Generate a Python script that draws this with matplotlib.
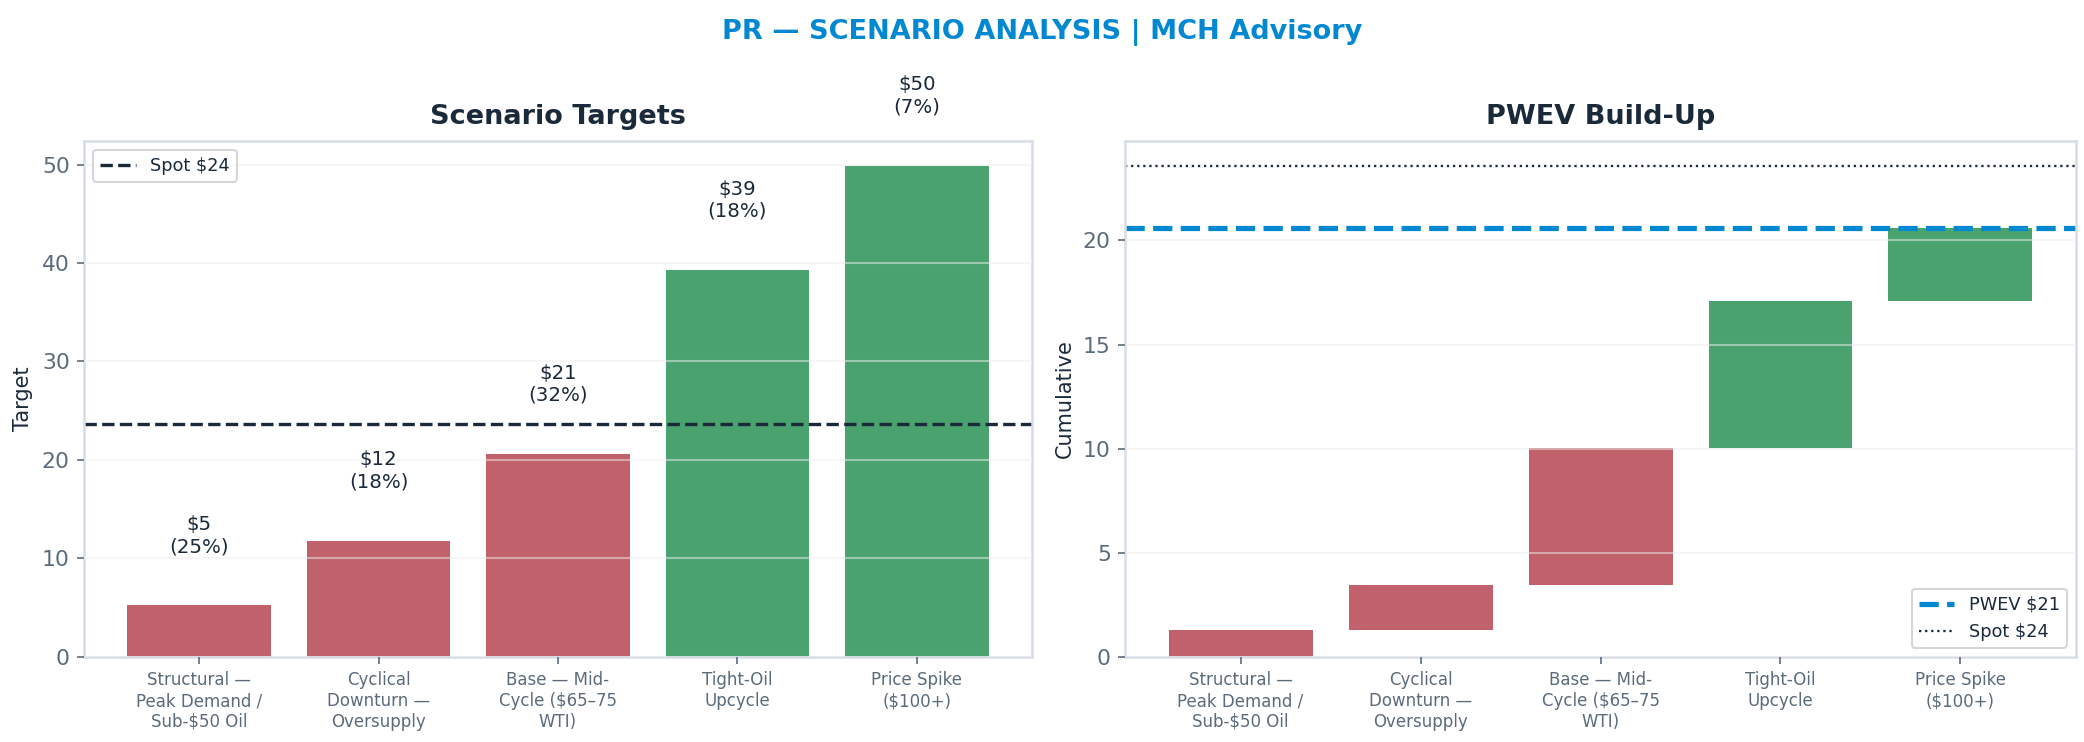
import textwrap
import matplotlib
matplotlib.use("Agg")
import matplotlib.pyplot as plt
import numpy as np

plt.rcParams['text.parse_math'] = False
plt.rcParams['font.family'] = ['DejaVu Sans']

# scenario data
scenarios = ["Structural — Peak Demand / Sub-$50 Oil",
             "Cyclical Downturn — Oversupply",
             "Base — Mid-Cycle ($65–75 WTI)",
             "Tight-Oil Upcycle",
             "Price Spike ($100+)"]
targets = [5.2, 11.8, 20.6, 39.3, 49.9]
probs = [0.25, 0.18, 0.32, 0.18, 0.07]
spot = 23.6

RED = "#c0616b"
GREEN = "#4aa26e"
NAVY = "#1b2a3b"
SLATE = "#5b6b7c"
SPINE = "#d6dde8"
BLUE = "#0288d1"

labels = [textwrap.fill(s, 14) for s in scenarios]
colors = [GREEN if t > spot else RED for t in targets]
x = np.arange(len(targets))

contrib = [t * p for t, p in zip(targets, probs)]
cum = np.cumsum(contrib)
starts = cum - np.array(contrib)
pwev = cum[-1]

fig = plt.figure(figsize=(2084 / 150, 742 / 150), dpi=150)
ax1 = fig.add_axes([0.0405, 0.115, 0.4545, 0.695])
ax2 = fig.add_axes([0.540, 0.115, 0.456, 0.695])


def style(ax):
    for s in ax.spines.values():
        s.set_color(SPINE)
        s.set_linewidth(1.2)
    ax.tick_params(axis='y', colors=SLATE, labelsize=10.5)
    ax.tick_params(axis='x', colors=SLATE, labelsize=8)
    ax.set_axisbelow(False)
    ax.grid(axis='y', color='#eeeeee', alpha=0.5, linewidth=1)
    ax.set_xticks(x)
    ax.set_xticklabels(labels)


# left: scenario targets
ax1.bar(x, targets, width=0.8, color=colors)
ax1.axhline(spot, color=NAVY, linestyle='--', linewidth=1.6, label=f"Spot ${spot:.0f}")
for xi, t, p in zip(x, targets, probs):
    ax1.text(xi, t + 5, f"${t:.0f}\n({p*100:.0f}%)", ha='center', va='bottom',
             fontsize=9.5, color=NAVY)
ax1.set_ylim(0, max(targets) * 1.05)
ax1.set_yticks([0, 10, 20, 30, 40, 50])
ax1.set_ylabel("Target", color=NAVY, fontsize=10)
ax1.set_title("Scenario Targets", fontsize=13, fontweight='bold', color=NAVY, pad=8)
style(ax1)
leg = ax1.legend(loc='upper left', fontsize=8.5, frameon=True)
for t in leg.get_texts():
    t.set_color(NAVY)

# right: PWEV waterfall
ax2.bar(x, contrib, bottom=starts, width=0.8, color=colors)
ax2.axhline(pwev, color=BLUE, linestyle='--', linewidth=2.5, label=f"PWEV ${pwev:.0f}")
ax2.axhline(spot, color=NAVY, linestyle=':', linewidth=1.1, label=f"Spot ${spot:.0f}")
ax2.set_ylim(0, spot * 1.05)
ax2.set_yticks([0, 5, 10, 15, 20])
ax2.set_ylabel("Cumulative", color=NAVY, fontsize=10)
ax2.set_title("PWEV Build-Up", fontsize=13, fontweight='bold', color=NAVY, pad=8)
style(ax2)
leg = ax2.legend(loc='lower right', fontsize=8.5, frameon=True)
for t in leg.get_texts():
    t.set_color(NAVY)

fig.suptitle("PR — SCENARIO ANALYSIS | MCH Advisory", fontsize=13, fontweight='bold',
             color=BLUE, y=0.975)

fig.savefig("out.png", dpi=150)
